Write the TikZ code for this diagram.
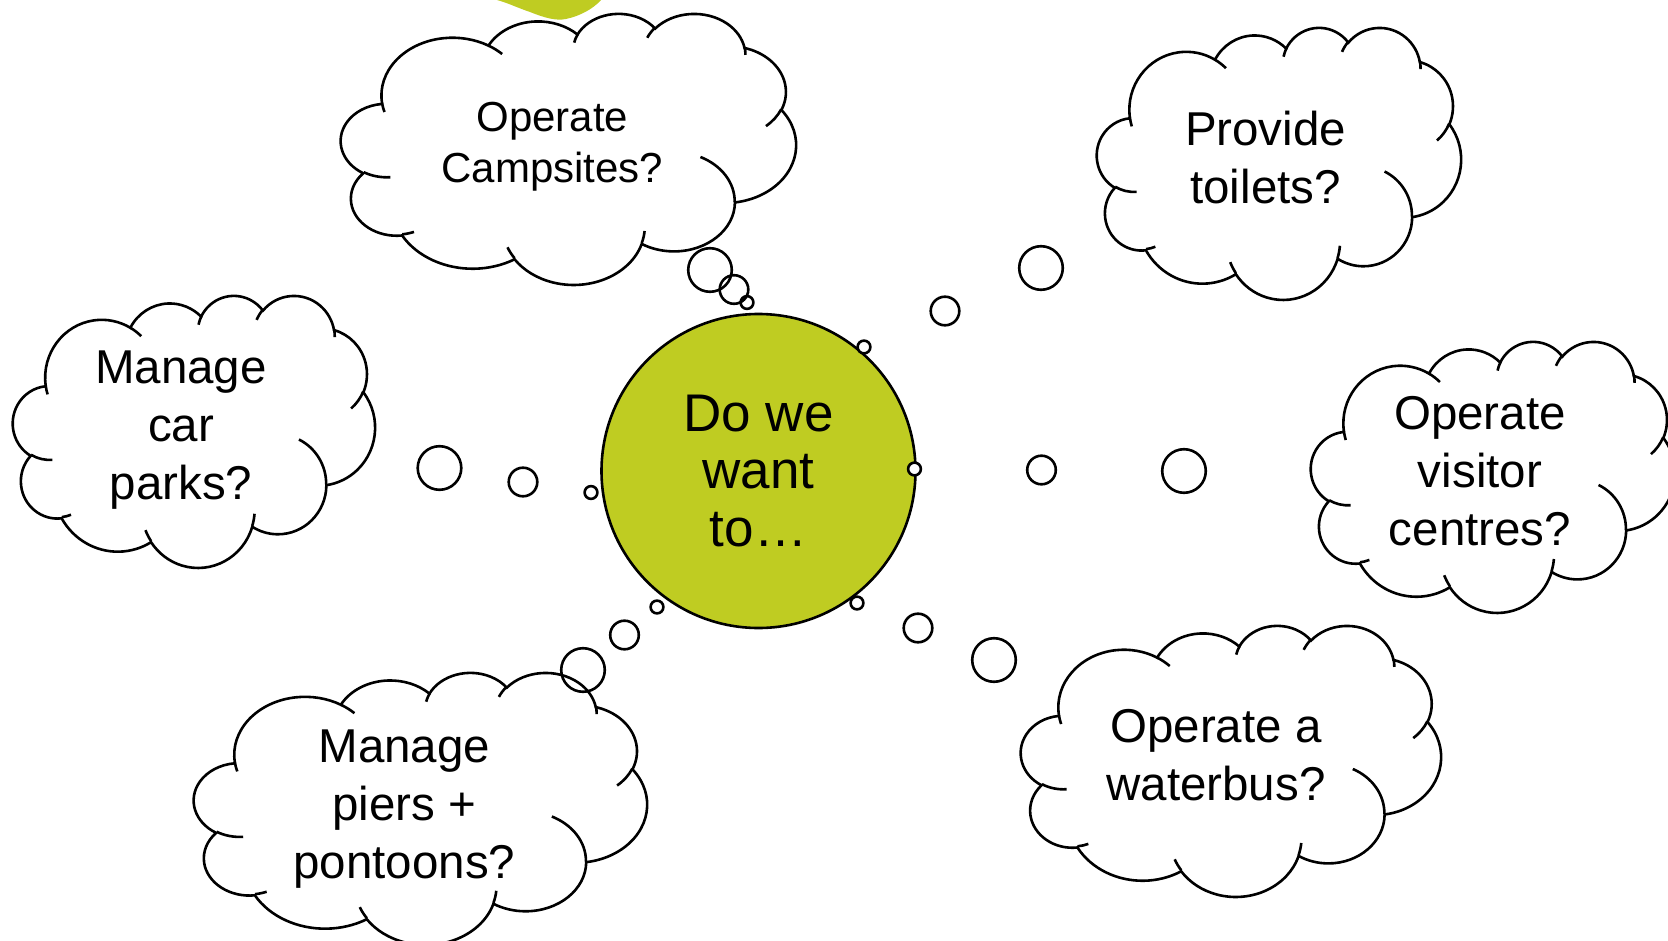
\documentclass[tikz,border=0pt]{standalone}
\usepackage{fontspec}
\setmainfont{Liberation Sans}
\definecolor{cgreen}{RGB}{191,204,34}
% convert an OOXML arc (visual angles, y down) to a TikZ parametric arc
\newcommand\cldcalc[4]{%
  \pgfmathsetmacro\cldA{-(#3)}%
  \pgfmathsetmacro\cldB{-(#3)-(#4)}%
  \pgfmathsetmacro\cldTs{atan2((#1)*sin(\cldA),(#2)*cos(\cldA))}%
  \pgfmathsetmacro\cldTe{atan2((#1)*sin(\cldB),(#2)*cos(\cldB))}%
  \pgfmathsetmacro\cldD{(\cldTe)-(\cldTs)}%
  \pgfmathsetmacro\cldD{(\cldD)+360*round((-(#4)-(\cldD))/360)}%
  \global\let\cldTs\cldTs\global\let\cldD\cldD}
\newcommand\cldarc[4]{\pgfextra{\cldcalc{#1}{#2}{#3}{#4}} arc[x radius=#1pt, y radius=#2pt, start angle=\cldTs, delta angle=\cldD]}
\newcommand\cloudouter{(390,1437)
  \cldarc{675.3}{919.0}{-190.48748}{123.78053}
  \cldarc{533.3}{726.7}{-144.10238}{89.94523}
  \cldarc{436.5}{594.5}{-145.80792}{99.72302}
  \cldarc{485.7}{659.5}{-130.98607}{117.24173}
  \cldarc{533.3}{727.3}{-78.70888}{109.02692}
  \cldarc{677.5}{922.0}{-46.26725}{130.26900}
  \cldarc{578.5}{786.7}{0.62502}{114.03333}
  \cldarc{675.2}{921.5}{22.4516}{115.17255}
  \cldarc{772.0}{1054.3}{66.24263}{75.71102}
  \cldarc{436.0}{591.8}{-274.94208}{146.73557}
  \cldarc{434.5}{594.5}{-246.8285}{152.52262} -- cycle}
\newcommand\cloudinner{
  (469.3,2617.7) \cldarc{434.5}{594.5}{86.742}{26.4295}
  (692.8,3489.9) \cldarc{436.0}{591.8}{73.61047}{11.44747}
  (1647.8,3909.0) \cldarc{675.2}{921.5}{137.62415}{14.0811}
  (2882.7,3475.1) \cldarc{675.2}{921.5}{6.45327}{15.99835}
  (3412.9,2295.4) \cldarc{578.5}{786.7}{-70.29235}{70.91737}
  (4179.8,1535.4) \cldarc{533.3}{727.3}{30.31803}{27.7515}
  (3832.4,542.6) \cldarc{485.7}{659.5}{-13.74433}{14.8589}
  (2907.8,395.2) \cldarc{485.7}{659.5}{-149.18145}{18.19537}
  (2214.1,472.0) \cldarc{436.5}{594.5}{-163.49427}{17.68635}
  (1400.0,519.2) \cldarc{675.3}{919.0}{-66.70695}{12.31935}
  (412.7,1578.9) \cldarc{675.3}{919.0}{157.65435}{11.85817}}
\begin{document}
\begin{tikzpicture}[x=1pt,y=-1pt,line width=2.6pt,
  cld/.style n args={4}{shift={(#1,#2)},xscale=#3/4320,yscale=#4/4320},
  bub/.style={circle,draw,inner sep=0pt,minimum size=#1},
  ctext/.style={align=center,font=\fontsize{47.5}{58}\selectfont}]
\useasboundingbox (0,0) rectangle (1668,941);
\clip (0,0) rectangle (1668,941);
% green blob at the top edge
\fill[cgreen] (494,-3) -- (497,0) .. controls (508,3) and (518,8) .. (530,12)
  .. controls (545,18) and (556,21) .. (566,19) .. controls (580,16) and (593,9) .. (601,0) -- (603,-3) -- cycle;
% central circle
\node[circle,draw,fill=cgreen,minimum size=314pt,inner sep=0pt,align=center,
  font=\fontsize{53}{57.5}\selectfont] (hub) at (758.5,471) {Do we\\want\\to…};
% cloud fills
\fill[white,cld={341}{13}{455}{271}] \cloudouter;
\fill[white,cld={1097}{27}{364}{272}] \cloudouter;
\fill[white,cld={1311}{341}{364}{271}] \cloudouter;
\fill[white,cld={13}{295}{362}{272}] \cloudouter;
\fill[white,cld={194}{672}{453}{272}] \cloudouter;
\fill[white,cld={1021}{625}{420}{271}] \cloudouter;
% bubble fills
\foreach \x/\y/\r in {710/270/21.8,734/289.5/14.3,747/302.5/6.4,
  1041/268/21.8,945/311/14.3,864/347/6.4,
  1184/471/21.8,1041.5/470/14.3,914.5/469/6.4,
  994/660/21.8,918/628/14.3,857/603/6.4,
  439.5/468/21.8,523/482/14.3,591/492.5/6.4,
  583/670/21.8,624.5/635/14.3,657/607/6.4}
  \fill[white] (\x,\y) circle[radius=\r pt];
% bubbles
\node[bub=43.6pt] (b1a) at (710,270) {};
\node[bub=28.6pt] (b1b) at (734,289.5) {};
\node[bub=12.8pt] (b1c) at (747,302.5) {};
\node[bub=43.6pt] (b2a) at (1041,268) {};
\node[bub=28.6pt] (b2b) at (945,311) {};
\node[bub=12.8pt] (b2c) at (864,347) {};
\node[bub=43.6pt] (b3a) at (1184,471) {};
\node[bub=28.6pt] (b3b) at (1041.5,470) {};
\node[bub=12.8pt] (b3c) at (914.5,469) {};
\node[bub=43.6pt] (b4a) at (994,660) {};
\node[bub=28.6pt] (b4b) at (918,628) {};
\node[bub=12.8pt] (b4c) at (857,603) {};
\node[bub=43.6pt] (b5a) at (439.5,468) {};
\node[bub=28.6pt] (b5b) at (523,482) {};
\node[bub=12.8pt] (b5c) at (591,492.5) {};
\node[bub=43.6pt] (b6a) at (583,670) {};
\node[bub=28.6pt] (b6b) at (624.5,635) {};
\node[bub=12.8pt] (b6c) at (657,607) {};
% cloud outlines
\foreach \cx/\cy/\cw/\ch in {341/13/455/271,1097/27/364/272,1311/341/364/271,
  13/295/362/272,194/672/453/272,1021/625/420/271}{
  \draw[cld={\cx}{\cy}{\cw}{\ch}] \cloudouter;
  \draw[cld={\cx}{\cy}{\cw}{\ch}] \cloudinner;
}
% texts
\node[align=center,font=\fontsize{42}{51}\selectfont] (tcamp) at (552.3,147) {Operate\\Campsites?};
\node[ctext] (ttoil) at (1265.6,158) {Provide\\toilets?};
\node[ctext] (tvis) at (1480,471) {Operate\\visitor\\centres?};
\node[ctext] (tcar) at (181,430) {Manage\\car\\parks?};
\node[ctext] (tpier) at (404.4,809) {Manage\\piers +\\pontoons?};
\node[ctext] (twat) at (1216,755.5) {Operate a\\waterbus?};
\end{tikzpicture}
\end{document}
